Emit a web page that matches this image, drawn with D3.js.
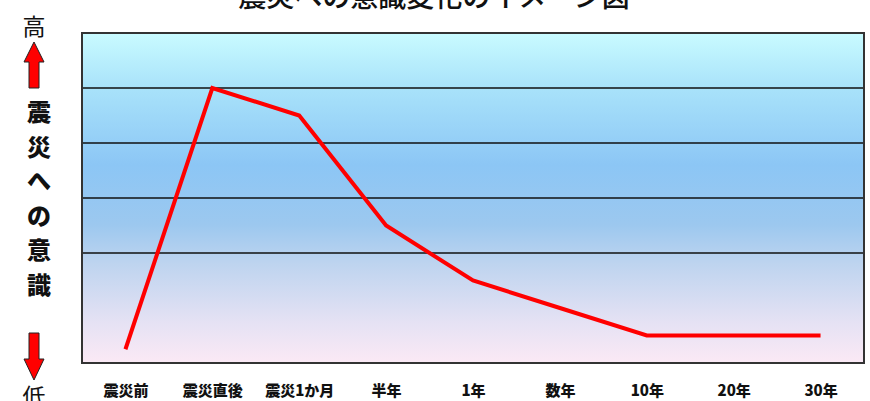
<!DOCTYPE html>
<html>
<head>
<meta charset="utf-8">
<script src="https://cdn.jsdelivr.net/npm/d3@7"></script>
<style>
  html, body { margin: 0; padding: 0; background: #fff; }
  svg { display: block; }
</style>
</head>
<body>
<svg id="chart" width="870" height="401"></svg>
<script>
// Stages after the earthquake and the relative level of awareness at each
const stages = ["震災前", "震災直後", "震災1か月", "半年", "1年", "数年", "10年", "20年", "30年"];
const awareness = [0.25, 5.0, 4.5, 2.5, 1.5, 1.0, 0.5, 0.5, 0.5];
const gridValues = [2, 3, 4, 5];
const yDomain = [0, 6];
const title = "震災への意識変化のイメージ図";
const axisHigh = "高";
const axisLow = "低";
const axisLabel = ["震", "災", "へ", "の", "意", "識"];

const svg = d3.select("#chart");
const plot = { left: 82, top: 33, right: 864, bottom: 363 };
const CJK = "'Noto Sans CJK JP', 'Noto Sans CJK SC', sans-serif";

const x = d3.scalePoint().domain(stages).range([plot.left, plot.right]).padding(0.5);
const y = d3.scaleLinear().domain(yDomain).range([plot.bottom, plot.top]);

// background gradient: pale cyan at the top, blue in the middle, pale pink at the bottom
const defs = svg.append("defs");
const grad = defs.append("linearGradient").attr("id", "bg")
  .attr("x1", 0).attr("y1", 0).attr("x2", 0).attr("y2", 1);
[
  [0.00, "#c9fbff"],
  [0.17, "#a8e2fa"],
  [0.40, "#8cc6f5"],
  [0.58, "#9cc8ef"],
  [0.70, "#bed4ef"],
  [0.88, "#e6e2f4"],
  [1.00, "#fbe9f5"]
].forEach(([o, c]) => grad.append("stop").attr("offset", o).attr("stop-color", c));

svg.append("rect")
  .attr("x", plot.left).attr("y", plot.top)
  .attr("width", plot.right - plot.left).attr("height", plot.bottom - plot.top)
  .attr("fill", "url(#bg)");

// horizontal grid lines
svg.append("g")
  .selectAll("line").data(gridValues).join("line")
  .attr("x1", plot.left).attr("x2", plot.right)
  .attr("y1", d => y(d)).attr("y2", d => y(d))
  .attr("stroke", "#111").attr("stroke-width", 1.4);

// frame
svg.append("rect")
  .attr("x", plot.left).attr("y", plot.top)
  .attr("width", plot.right - plot.left).attr("height", plot.bottom - plot.top)
  .attr("fill", "none").attr("stroke", "#333").attr("stroke-width", 2);

// awareness line
const line = d3.line().x((d, i) => x(stages[i])).y(d => y(d));
svg.append("path")
  .datum(awareness)
  .attr("d", line)
  .attr("fill", "none")
  .attr("stroke", "#ff0000")
  .attr("stroke-width", 4)
  .attr("stroke-linejoin", "miter");

// category labels along the bottom
const xAxis = d3.axisBottom(x).tickSize(0).tickPadding(0);
const gx = svg.append("g").attr("transform", `translate(0, 377)`).call(xAxis);
gx.select(".domain").remove();
gx.selectAll("text")
  .attr("dy", "0")
  .attr("y", 19)
  .attr("font-family", CJK)
  .attr("font-size", 15)
  .attr("font-weight", 900)
  .attr("fill", "#111");

// title (partly above the top edge)
svg.append("text")
  .attr("x", 434).attr("y", 7)
  .attr("text-anchor", "middle")
  .attr("font-family", CJK)
  .attr("font-size", 28)
  .attr("font-weight", 500)
  .attr("fill", "#111")
  .text(title);

// vertical axis annotation: 高 ↑ 震災への意識 ↓ 低
const cx = 34;
svg.append("text")
  .attr("x", cx).attr("y", 35)
  .attr("text-anchor", "middle")
  .attr("font-family", CJK)
  .attr("font-size", 23)
  .attr("fill", "#111")
  .text(axisHigh);

const arrowStyle = s => s.attr("fill", "#ff0000").attr("stroke", "#222").attr("stroke-width", 1);
svg.append("path")
  .attr("d", `M${cx},42 L${cx + 10},62 L${cx + 5},62 L${cx + 5},88 L${cx - 5},88 L${cx - 5},62 L${cx - 10},62 Z`)
  .call(arrowStyle);
svg.append("path")
  .attr("d", `M${cx - 5},333 L${cx + 5},333 L${cx + 5},359 L${cx + 10},359 L${cx},380 L${cx - 10},359 L${cx - 5},359 Z`)
  .call(arrowStyle);

svg.append("g")
  .selectAll("text").data(axisLabel).join("text")
  .attr("x", cx + 5)
  .attr("y", (d, i) => 121 + i * 34.5)
  .attr("text-anchor", "middle")
  .attr("font-family", CJK)
  .attr("font-size", 24)
  .attr("font-weight", 900)
  .attr("fill", "#111")
  .text(d => d);

svg.append("text")
  .attr("x", cx).attr("y", 405)
  .attr("text-anchor", "middle")
  .attr("font-family", CJK)
  .attr("font-size", 23)
  .attr("fill", "#111")
  .text(axisLow);
</script>
</body>
</html>
